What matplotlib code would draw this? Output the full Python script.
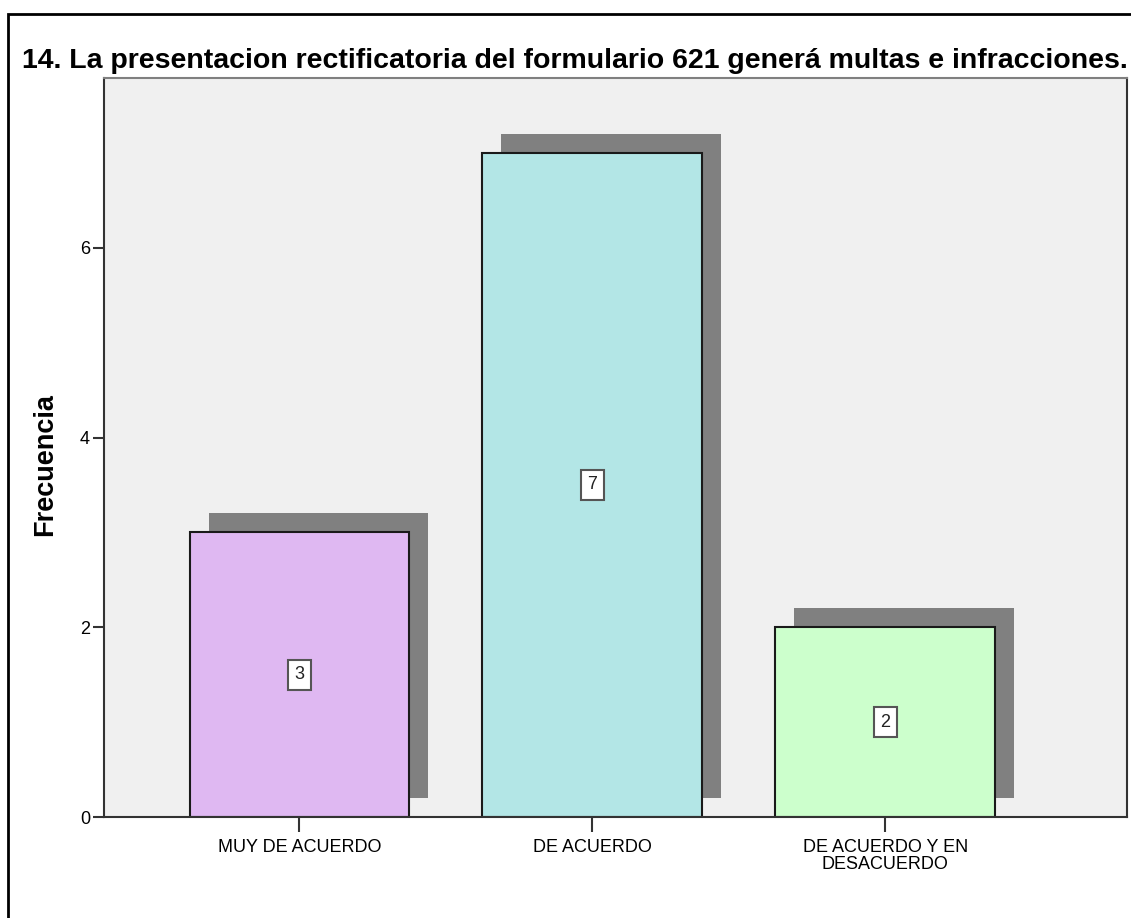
import numpy as np
import matplotlib
matplotlib.use('Agg')
import matplotlib.pyplot as plt
import matplotlib.transforms as mtransforms
from matplotlib.patches import Rectangle

plt.rcParams['font.family'] = ['Liberation Sans', 'DejaVu Sans']

# data
categories = ['MUY DE ACUERDO', 'DE ACUERDO', 'DE ACUERDO Y EN\nDESACUERDO']
counts = [3, 7, 2]
bar_colors = ['#dfb8f2', '#b3e6e6', '#ccffcc']
title = '14. La presentacion rectificatoria del formulario 621 generá multas e infracciones.'

fig = plt.figure(figsize=(11.31, 9.18), dpi=100)
ax = fig.add_axes([104/1131, 1-817/918, (1127-104)/1131, (817-78)/918])
ax.set_facecolor('#f0f0f0')

x = np.arange(len(categories))
w = 0.75

# drop shadow: same bars shifted 19px right / 19px up
shadow = ax.transData + mtransforms.ScaledTranslation(0.19, 0.19, fig.dpi_scale_trans)
ax.bar(x, counts, width=w, color='#808080', linewidth=0, transform=shadow, zorder=1)
ax.bar(x, counts, width=w, color=bar_colors, edgecolor='#1a1a1a', linewidth=1.5, zorder=2)

for xi, c in zip(x, counts):
    ax.text(xi, c/2, str(c), ha='center', va='center', fontsize=13, color='#222222', zorder=3,
            bbox=dict(boxstyle='square,pad=0.35', fc='white', ec='#555555', lw=1.5))

ax.set_xlim(-0.667, 2.825)
ax.set_ylim(0, 7.79)
ax.set_yticks([0, 2, 4, 6])
ax.set_xticks(x)
ax.set_xticklabels(categories, fontsize=13, linespacing=1.0)
ax.tick_params(axis='y', labelsize=13, length=8, width=1.5, color='#333333', pad=2)
ax.tick_params(axis='x', length=11, width=1.5, color='#333333', pad=5)
for s in ax.spines.values():
    s.set_color('#333333')
    s.set_linewidth(1.5)
ax.spines['top'].set_color('#808080')

fig.text(22/1131, 1-61/918, title, ha='left', va='center', fontsize=20.5, fontweight='bold')
fig.text(45/1131, 1-465/918, 'Frecuencia', ha='center', va='center', rotation=90,
         fontsize=19.5, fontweight='bold')

# outer frame
fig.patches.append(Rectangle((8/1131, -0.05), 1.2, 1.05 - 14/918, transform=fig.transFigure,
                             fill=False, ec='black', lw=2))

fig.savefig('out.png', dpi=100)
